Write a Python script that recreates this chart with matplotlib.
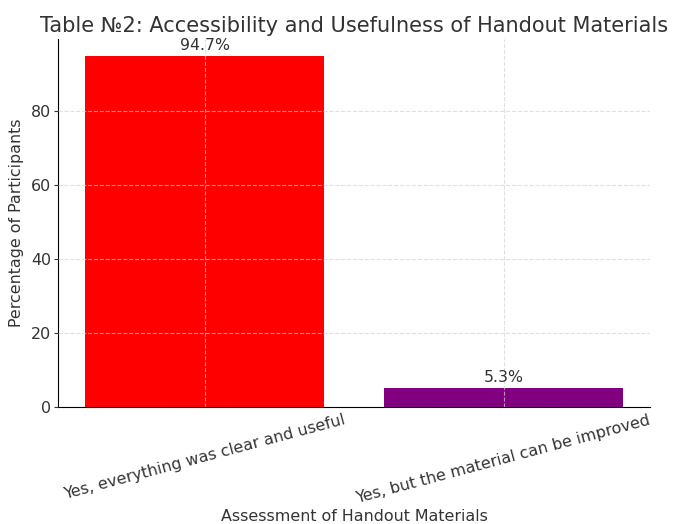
import matplotlib
matplotlib.use("Agg")
import matplotlib.pyplot as plt

categories = ["Yes, everything was clear and useful", "Yes, but the material can be improved"]
percentages = [94.7, 5.3]
colors = ["red", "purple"]

txt = "#333333"
plt.rcParams['text.color'] = txt
plt.rcParams['axes.labelcolor'] = txt
plt.rcParams['xtick.color'] = txt
plt.rcParams['ytick.color'] = txt

fig = plt.figure(figsize=(6.75, 5.24), dpi=100)
ax = fig.add_axes([0.086, 0.223, 0.877, 0.703])
bars = ax.bar(categories, percentages, color=colors, width=0.8)
for b, v in zip(bars, percentages):
    ax.text(b.get_x() + b.get_width() / 2, v + 0.8, f"{v}%", ha="center", va="bottom", fontsize=11.3)

ax.set_title("Table №2: Accessibility and Usefulness of Handout Materials", fontsize=15, pad=5)
ax.set_xlabel("Assessment of Handout Materials", fontsize=11.4, labelpad=2)
ax.set_ylabel("Percentage of Participants", fontsize=11.4, labelpad=5)
ax.tick_params(axis='x', labelsize=11.4, length=0, pad=4)
ax.tick_params(axis='y', labelsize=11.4, length=3, pad=2)
plt.setp(ax.get_xticklabels(), rotation=15, ha="center")
ax.grid(True, linestyle="--", color="lightgray", alpha=0.7, linewidth=0.8)
ax.set_axisbelow(False)
for s in ["top", "right"]:
    ax.spines[s].set_visible(False)
fig.savefig("out.png", dpi=100)
